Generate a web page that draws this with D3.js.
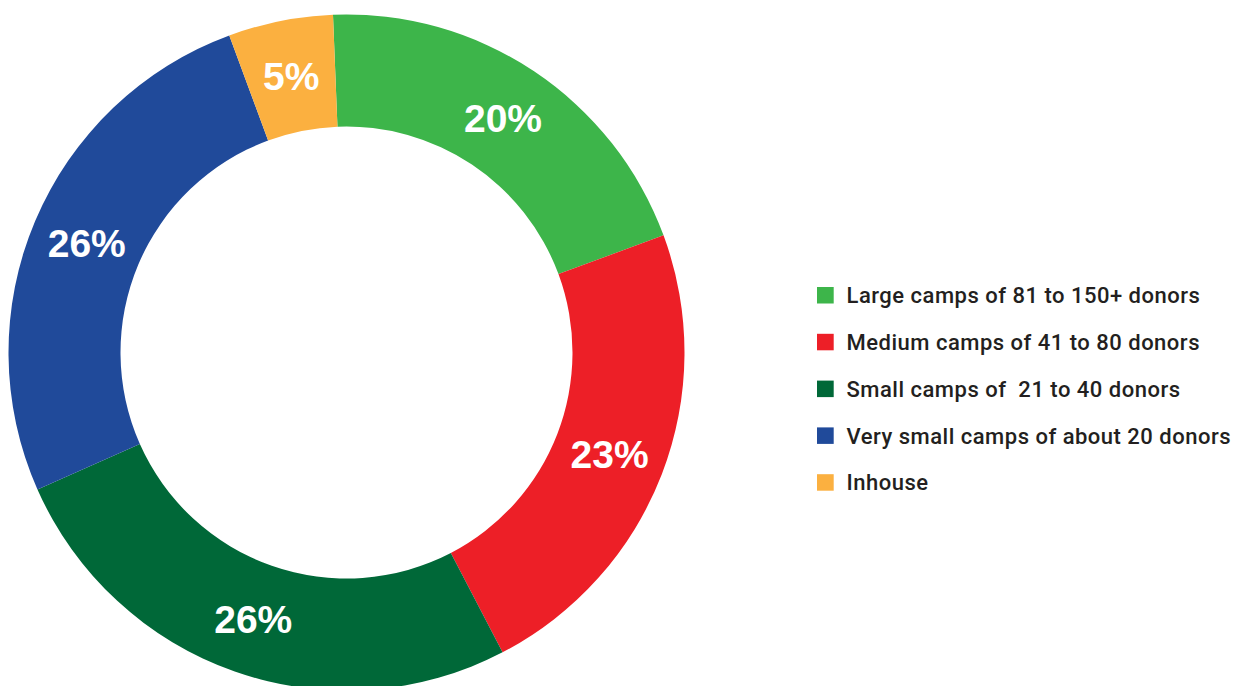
<!DOCTYPE html>
<html>
<head>
<meta charset="utf-8">
<script src="https://cdn.jsdelivr.net/npm/d3@7"></script>
<style>
  html, body { margin: 0; padding: 0; background: #ffffff; }
  svg { display: block; }
</style>
</head>
<body>
<svg id="chart" width="1239" height="686"></svg>
<script>
// Share of blood donation camps by size
const categories = [
  "Large camps of 81 to 150+ donors",
  "Medium camps of 41 to 80 donors",
  "Small camps of  21 to 40 donors",
  "Very small camps of about 20 donors",
  "Inhouse"
];
const shares = [20, 23, 26, 26, 5];
const colors = ["#3db54a", "#ed1f27", "#006838", "#204a9a", "#fbb040"];

const data = categories.map((c, i) => ({ name: c, value: shares[i], color: colors[i] }));

const svg = d3.select("#chart");
const cx = 346.5, cy = 352.5;
const outerR = 338, innerR = 226;
const start = -0.04;

const pie = d3.pie()
  .value(d => d.value)
  .sort(null)
  .startAngle(start)
  .endAngle(start + 2 * Math.PI);

const arc = d3.arc().innerRadius(innerR).outerRadius(outerR);
const labelArc = d3.arc().innerRadius(282).outerRadius(282);

const g = svg.append("g").attr("transform", `translate(${cx},${cy})`);
const arcs = pie(data);

g.selectAll("path.slice")
  .data(arcs)
  .join("path")
  .attr("class", "slice")
  .attr("d", arc)
  .attr("fill", d => d.data.color);

g.selectAll("text.pct")
  .data(arcs)
  .join("text")
  .attr("class", "pct")
  .attr("transform", d => `translate(${labelArc.centroid(d)})`)
  .attr("text-anchor", "middle")
  .attr("dy", "0.36em")
  .attr("fill", "#ffffff")
  .style("font-family", "'Liberation Sans', Arial, sans-serif")
  .style("font-weight", "bold")
  .style("font-size", "39px")
  .text(d => d.data.value + "%");

// Legend
const legend = svg.append("g").attr("transform", "translate(817,287)");
const row = legend.selectAll("g.item")
  .data(data)
  .join("g")
  .attr("class", "item")
  .attr("transform", (d, i) => `translate(0,${i * 46.8})`);

row.append("rect")
  .attr("width", 16.7)
  .attr("height", 16.5)
  .attr("fill", d => d.color);

row.append("text")
  .attr("x", 29.5)
  .attr("y", 8.3)
  .attr("dy", "0.36em")
  .attr("fill", "#231f20")
  .style("font-family", "Roboto, 'Liberation Sans', sans-serif")
  .style("font-weight", "500")
  .style("font-size", "22px")
  .style("letter-spacing", "0.5px")
  .style("white-space", "pre")
  .text(d => d.name);
</script>
</body>
</html>
